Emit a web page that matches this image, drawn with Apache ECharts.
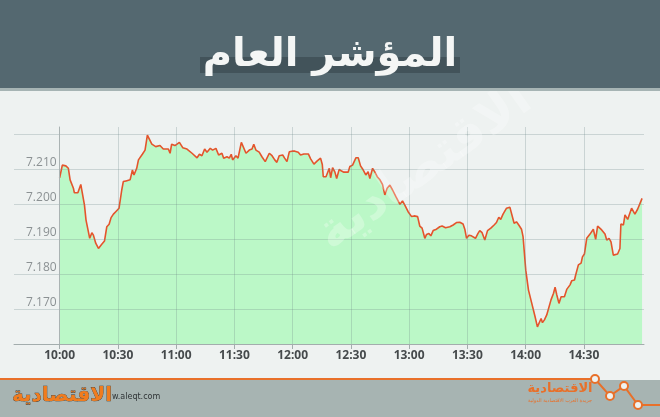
<!DOCTYPE html>
<html>
<head>
<meta charset="utf-8">
<script src="https://cdn.jsdelivr.net/npm/echarts@6/dist/echarts.min.js"></script>
<style>
html,body{margin:0;padding:0;background:#eef2f1;}
#chart{width:660px;height:417px;}
</style>
</head>
<body>
<div id="chart"></div>
<script>
// Title and tick labels
var titleText = 'المؤشر العام';
var tickMinutes = [0, 30, 60, 90, 120, 150, 180, 210, 240, 270];
var tickLabels = ['10:00', '10:30', '11:00', '11:30', '12:00', '12:30', '13:00', '13:30', '14:00', '14:30'];
var yTickValues = [7.170, 7.180, 7.190, 7.200, 7.210];

// Series: minutes after 10:00 and index value
var minutes = [
  0,1.4,3.2,4.5,5.4,7.1,7.6,9.4,10.0,10.9,11.7,12.8,13.6,14.5,15.5,16.6,17.4,18.6,20.0,20.8,
  21.7,23.1,24.3,25.5,26.5,27.7,28.9,30.6,32.0,32.8,34.2,35.1,36.3,37.5,38.3,39.7,40.6,42.6,44.0,45.2,
  46.2,47.5,49.5,51.7,53.4,56.0,56.9,57.7,59.4,
  61.7,63.4,65.6,68.2,70.8,72.0,73.3,74.7,75.9,77.6,78.8,80.5,81.9,83.6,84.5,86.2,87.4,88.4,89.1,90.8,
  91.9,93.6,94.3,96.0,97.7,99.1,100.0,101.1,102.8,104.2,105.9,108.0,109.4,110.8,111.9,113.1,114.9,115.9,117.1,118.3,
  119.7,
  121.2,122.9,124.1,125.8,128.1,129.3,131.0,132.7,134.4,135.3,135.8,137.2,138.0,138.9,139.6,140.6,141.8,142.7,144.0,145.2,
  146.4,148.6,149.5,150.9,152.6,153.8,155.0,156.4,157.7,158.9,159.8,161.2,162.4,163.6,165.0,166.3,167.5,168.7,170.1,171.5,
  173.2,175.3,176.6,177.8,
  179.5,181.3,182.6,184.4,185.5,186.7,188.1,189.0,190.2,191.2,192.4,194.1,195.8,197.0,198.8,201.0,202.7,203.6,204.4,206.1,
  207.8,208.7,209.6,210.8,212.1,213.0,214.2,215.5,216.4,217.6,219.0,220.4,222.1,223.8,225.0,226.2,227.2,228.4,230.2,231.9,
  232.7,234.1,235.3,236.5,237.9,238.7,
  240.1,241.5,243.2,244.9,246.1,246.9,248.0,248.7,249.7,250.9,251.8,253.1,254.4,255.2,256.1,257.2,258.3,260.0,261.2,262.9,
  263.8,265.2,265.8,267.2,268.6,269.3,270.3,271.5,273.2,274.9,276.1,277.1,279.2,280.1,280.9,281.8,283.0,284.0,285.2,286.1,
  287.4,288.6,289.1,290.4,291.2,292.6,293.2,294.6,295.5,296.3,297.7,300
];
var values = [
  7.2075,7.2111,7.2109,7.2102,7.2069,7.2045,7.2032,7.2032,7.2035,7.2056,7.2031,7.1997,7.1954,7.1956,7.1902,7.1918,7.1911,7.1888,7.1873,7.1873,
  7.1885,7.1894,7.1935,7.1942,7.1961,7.1971,7.1978,7.1988,7.2040,7.2064,7.2066,7.2071,7.2069,7.2097,7.2083,7.2102,7.2126,7.2142,7.2154,7.2197,
  7.2192,7.2171,7.2164,7.2167,7.2157,7.2157,7.2145,7.2171,7.2167,
  7.2176,7.2161,7.2157,7.2145,7.2132,7.2142,7.2138,7.2157,7.2148,7.2159,7.2154,7.2159,7.2140,7.2145,7.2131,7.2135,7.2131,7.2142,7.2126,7.2138,
  7.2131,7.2176,7.2171,7.2145,7.2154,7.2157,7.2171,7.2154,7.2148,7.2135,7.2121,7.2145,7.2138,7.2126,7.2119,7.2138,7.2140,7.2131,7.2121,7.2149,
  7.2151,
  7.2151,7.2148,7.2140,7.2143,7.2143,7.2129,7.2114,7.2123,7.2131,7.2113,7.2078,7.2078,7.2081,7.2102,7.2075,7.2104,7.2091,7.2073,7.2099,7.2094,
  7.2091,7.2091,7.2107,7.2111,7.2132,7.2132,7.2109,7.2097,7.2083,7.2092,7.2073,7.2102,7.2091,7.2078,7.2069,7.2056,7.2026,7.2045,7.2054,7.2040,
  7.2021,7.1999,7.2009,7.1997,
  7.1978,7.1964,7.1966,7.1964,7.1937,7.1931,7.1902,7.1913,7.1916,7.1909,7.1924,7.1928,7.1935,7.1937,7.1932,7.1935,7.1940,7.1937,7.1947,7.1948,
  7.1943,7.1928,7.1902,7.1911,7.1909,7.1914,7.1902,7.1916,7.1924,7.1918,7.1897,7.1924,7.1931,7.1940,7.1947,7.1962,7.1956,7.1971,7.1988,7.1991,
  7.1988,7.1945,7.1949,7.1940,7.1928,7.1907,
  7.1811,7.1754,7.1716,7.1678,7.1649,7.1648,7.1673,7.1661,7.1669,7.1683,7.1678,7.1726,7.1745,7.1762,7.1740,7.1716,7.1735,7.1735,7.1756,7.1769,
  7.1781,7.1783,7.1797,7.1826,7.1831,7.1849,7.1857,7.1902,7.1914,7.1928,7.1899,7.1937,7.1926,7.1928,7.1914,7.1897,7.1902,7.1892,7.1854,7.1849,
  7.1857,7.1873,7.1943,7.1940,7.1969,7.1956,7.1966,7.1988,7.1988,7.1971,7.1985,7.2016
];

var seriesData = minutes.map(function (m, i) { return [m, values[i]]; });

var chart = echarts.init(document.getElementById('chart'), null, {renderer: 'canvas'});
var ORANGE = '#e8702a';
var GRIDLINE = 'rgba(110,135,135,0.28)';
var option = {
  backgroundColor: '#eef2f1',
  animation: false,
  grid: {left: 14, right: 16, top: 127, bottom: 73, containLabel: false},
  xAxis: {
    type: 'value',
    min: -23.5,
    max: 301,
    z: 5,
    axisLine: {show: true, lineStyle: {color: '#a3adad', width: 1}},
    axisTick: {show: true, customValues: tickMinutes, length: 5, lineStyle: {color: '#a3adad'}},
    axisLabel: {
      customValues: tickMinutes,
      margin: 6,
      color: '#454a4c',
      fontFamily: 'Open Sans',
      fontWeight: 'bold',
      fontSize: 12,
      formatter: function (v) {
        var i = tickMinutes.indexOf(Math.round(v));
        return i >= 0 ? tickLabels[i] : '';
      }
    },
    splitLine: {show: true, lineStyle: {color: GRIDLINE, width: 1}}
  },
  yAxis: {
    type: 'value',
    min: 7.16,
    max: 7.222,
    interval: 0.01,
    z: 5,
    axisLine: {show: true, lineStyle: {color: '#aab3b3', width: 1}},
    axisTick: {show: false},
    axisLabel: {
      inside: true,
      margin: 12,
      color: '#8b9193',
      fontFamily: 'Open Sans',
      fontSize: 12,
      verticalAlign: 'bottom',
      formatter: function (v) {
        for (var i = 0; i < yTickValues.length; i++) {
          if (Math.abs(v - yTickValues[i]) < 1e-6) return yTickValues[i].toFixed(3);
        }
        return '';
      }
    },
    splitLine: {show: true, showMaxLine: false, showMinLine: false, lineStyle: {color: GRIDLINE, width: 1}}
  },
  graphic: [
    {type: 'rect', shape: {x: 0, y: 0, width: 660, height: 88}, style: {fill: '#546870'}, z: 10},
    {type: 'rect', shape: {x: 0, y: 88, width: 660, height: 3}, style: {fill: '#a6b4b4'}, z: 10},
    {type: 'rect', shape: {x: 200, y: 57, width: 260, height: 16}, style: {fill: '#42535a'}, z: 11},
    {type: 'text', x: 330, y: 56, z: 12, style: {text: titleText, fill: '#f4f6f5', font: 'bold 40px "DejaVu Sans"', textAlign: 'center', textVerticalAlign: 'middle'}},
    {type: 'text', x: 425, y: 168, rotation: 0.62, z: 6, style: {text: 'الاقتصادية', fill: 'rgba(255,255,255,0.28)', font: 'bold 50px "DejaVu Sans"', textAlign: 'center', textVerticalAlign: 'middle'}},
    {type: 'rect', shape: {x: 0, y: 380, width: 660, height: 37}, style: {fill: '#a7b4b2'}, z: 10},
    {type: 'polyline', shape: {points: [[0, 379], [595, 379], [610, 396], [624, 386], [638, 405], [660, 405]]}, style: {stroke: ORANGE, lineWidth: 2, fill: null}, z: 11},
    {type: 'circle', shape: {cx: 595, cy: 379, r: 4}, style: {stroke: ORANGE, lineWidth: 2, fill: '#eef2f1'}, z: 12},
    {type: 'circle', shape: {cx: 610, cy: 396, r: 4}, style: {stroke: ORANGE, lineWidth: 2, fill: '#eef2f1'}, z: 12},
    {type: 'circle', shape: {cx: 624, cy: 386, r: 4}, style: {stroke: ORANGE, lineWidth: 2, fill: '#eef2f1'}, z: 12},
    {type: 'circle', shape: {cx: 638, cy: 405, r: 4}, style: {stroke: ORANGE, lineWidth: 2, fill: '#eef2f1'}, z: 12},
    {type: 'text', x: 62, y: 396, z: 12, style: {text: 'الاقتصادية', fill: '#f07c1e', stroke: '#3a3028', lineWidth: 0.6, font: 'bold 20px "DejaVu Sans"', textAlign: 'center', textVerticalAlign: 'middle'}},
    {type: 'text', x: 112, y: 397, z: 12, style: {text: 'w.aleqt.com', fill: '#2f3436', font: '8px "DejaVu Sans"', textAlign: 'left', textVerticalAlign: 'middle'}},
    {type: 'text', x: 560, y: 389, z: 12, style: {text: 'الاقتصادية', fill: '#e8702a', font: 'bold 13px "DejaVu Sans"', textAlign: 'center', textVerticalAlign: 'middle'}},
    {type: 'text', x: 560, y: 401, z: 12, style: {text: 'جريدة العرب الاقتصادية الدولية', fill: '#e8702a', font: '5px "DejaVu Sans"', textAlign: 'center', textVerticalAlign: 'middle'}}
  ],
  series: [{
    type: 'line',
    data: seriesData,
    showSymbol: false,
    symbol: 'none',
    smooth: false,
    lineStyle: {color: '#e4542c', width: 1.6},
    areaStyle: {color: '#bbf8c7', opacity: 1, origin: 'start'},
    z: 2
  }]
};
chart.setOption(option);
</script>
</body>
</html>
